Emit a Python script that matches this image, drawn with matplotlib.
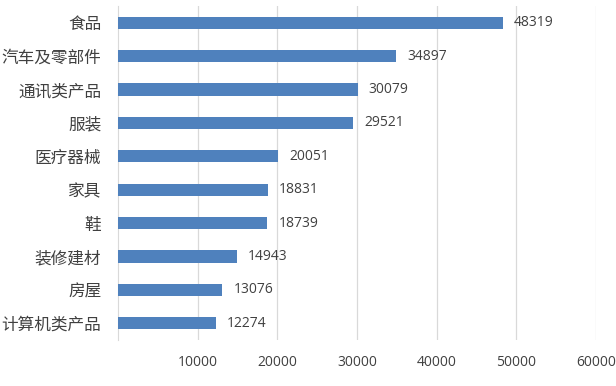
import matplotlib
matplotlib.use("Agg")
from matplotlib import pyplot as plt
import numpy as np

plt.rcParams['font.family'] = ['Noto Sans CJK SC', 'DejaVu Sans']

categories = ['食品', '汽车及零部件', '通讯类产品', '服装', '医疗器械',
              '家具', '鞋', '装修建材', '房屋', '计算机类产品']
values = [48319, 34897, 30079, 29521, 20051, 18831, 18739, 14943, 13076, 12274]
xticks = [10000, 20000, 30000, 40000, 50000, 60000]

fig = plt.figure(figsize=(6.16, 3.86), dpi=100)
ax = fig.add_axes([118/616, 1-340/386, (596-118)/616, (340-6)/386])

y = np.arange(len(categories))
ax.barh(y, values, height=0.36, color='#4F81BD', zorder=3)
for yi, v in zip(y, values):
    ax.text(v + 1400, yi, str(v), va='center', ha='left', fontsize=10,
            color='#404040', family=['Open Sans', 'DejaVu Sans'])

ax.set_xlim(0, 60000)
ax.set_ylim(len(categories)-0.5, -0.5)
ax.set_yticks(y)
ax.set_yticklabels(categories, fontsize=12, color='#404040')
ax.set_xticks(xticks)
ax.set_xticklabels([str(t) for t in xticks], fontsize=10, color='#404040',
                   family=['Open Sans', 'DejaVu Sans'])
ax.tick_params(length=0)
ax.tick_params(axis='x', pad=11)
ax.tick_params(axis='y', pad=12)
ax.grid(axis='x', color='#D9D9D9', linewidth=0.9, zorder=0)
for s in ['top', 'right', 'bottom']:
    ax.spines[s].set_visible(False)
ax.spines['left'].set_color('#D9D9D9')

fig.savefig('out.png', dpi=100)
